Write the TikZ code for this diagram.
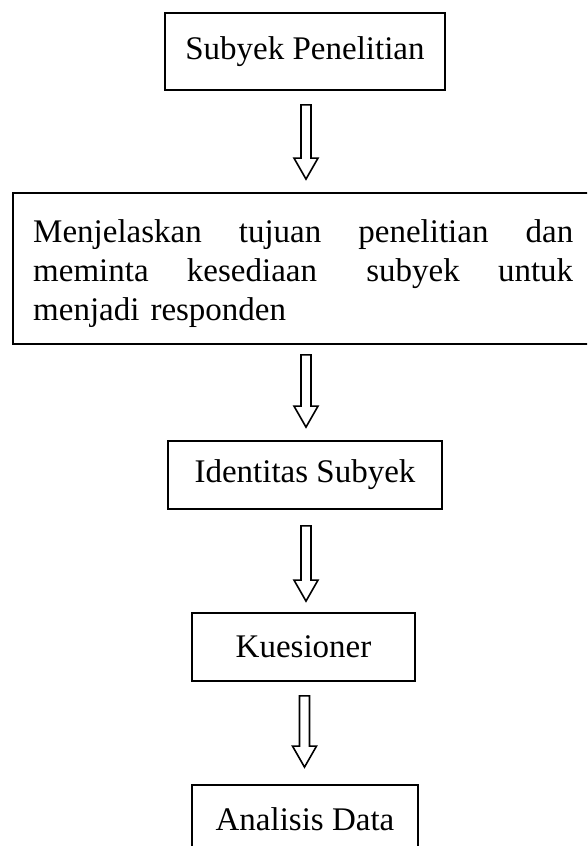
\documentclass[tikz,border=0pt]{standalone}
\usepackage{fontspec}
\setmainfont{Liberation Serif}
\usetikzlibrary{calc}
\tikzset{
  flowbox/.style={draw=black, line width=1.8pt, inner sep=0pt, font=\fontsize{33}{38}\selectfont},
  flowtext/.style={inner sep=0pt, font=\fontsize{33}{39}\selectfont},
  hollow/.style={draw=black, line width=1.6pt, fill=white, line join=miter},
}
% block arrow from node #1 to node #2, gaps #3 (top) and #4 (bottom)
\newcommand\hollowarrow[4]{%
  \draw[hollow] let \p1=(#1.south), \p2=(#2.north) in
    (\x1-4pt,\y1-#3pt) -- (\x1+6pt,\y1-#3pt) -- (\x1+6pt,\y2+#4pt+21pt)
    -- (\x1+13pt,\y2+#4pt+21pt) -- (\x1+1pt,\y2+#4pt)
    -- (\x1-11pt,\y2+#4pt+21pt) -- (\x1-4pt,\y2+#4pt+21pt) -- cycle;
}
\begin{document}
\begin{tikzpicture}[x=1pt,y=-1pt]
  \useasboundingbox (0,0) rectangle (587,846);
  \clip (0,0) rectangle (587,846);
  \node[flowbox, minimum width=280pt, minimum height=77pt] (subjek) at (305,51.5) {Subyek Penelitian};
  \node[flowbox, minimum width=584pt, minimum height=151pt] (jelaskan) at (305,268.5) {};
  \node[flowtext, anchor=north west, text width=540pt] (jelaskantext) at (33,219)
    {\hbox to 540pt{Menjelaskan\hfill tujuan\hfill penelitian\hfill dan}\par
     \hbox to 540pt{meminta\hfill kesediaan\hfill\ subyek\hfill untuk}\par
     \noindent menjadi responden};
  \node[flowbox, minimum width=274pt, minimum height=68pt] (identitas) at (305,475) {Identitas Subyek};
  \node[flowbox, minimum width=223pt, minimum height=68pt] (kuesioner) at (303.5,647) {Kuesioner};
  \node[flowbox, minimum width=226pt, minimum height=68pt] (analisis) at (305,819) {Analisis Data};
  \hollowarrow{subjek}{jelaskan}{14}{13}
  \hollowarrow{jelaskan}{identitas}{10}{13}
  \hollowarrow{identitas}{kuesioner}{16}{11}
  \hollowarrow{kuesioner}{analisis}{14}{17}
\end{tikzpicture}
\end{document}
